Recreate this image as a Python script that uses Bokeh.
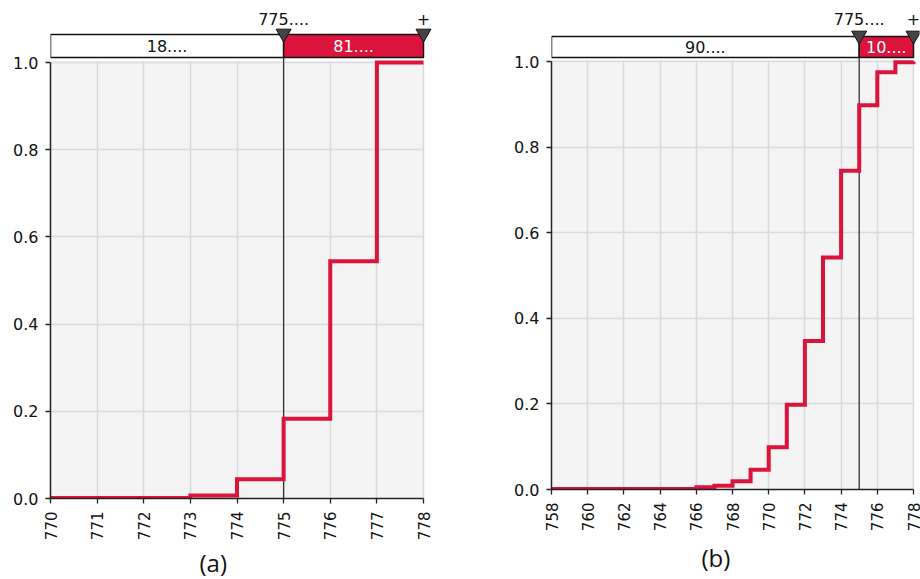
from bokeh.plotting import figure
from bokeh.layouts import row
from bokeh.models import Range1d, FixedTicker, PrintfTickFormatter, BoxAnnotation, Title
from bokeh.embed import file_html
from bokeh.resources import INLINE
from bokeh.core.properties import value
import math

# ---------------- data ----------------
a_x = [770, 771, 772, 773, 774, 775, 776, 777, 778]
a_cdf = [0.001, 0.001, 0.001, 0.007, 0.044, 0.183, 0.544, 1.0, 1.0]
a_ticks = [770, 771, 772, 773, 774, 775, 776, 777, 778]

b_x = [758, 759, 760, 761, 762, 763, 764, 765, 766, 767, 768, 769, 770,
       771, 772, 773, 774, 775, 776, 777, 778]
b_cdf = [0.001, 0.001, 0.001, 0.001, 0.001, 0.001, 0.001, 0.001, 0.005,
         0.009, 0.019, 0.046, 0.099, 0.198, 0.347, 0.542, 0.745, 0.898,
         0.975, 0.998, 1.0]
b_ticks = [758, 760, 762, 764, 766, 768, 770, 772, 774, 776, 778]

threshold = 775
marker_labels = ["775....", "+"]
a_bar_labels = ["18....", "81...."]
b_bar_labels = ["90....", "10...."]
y_ticks = [0.0, 0.2, 0.4, 0.6, 0.8, 1.0]

RED = "#DC143C"
FONT = "DejaVu Sans"
H = 578


def panel(xs, ys, ticks, bar_labels, caption, width, bl, frame_right_pad,
          px_per_unit, zero_px, one_px, bar_top_px, bar_bot_px,
          cap_offset, cap_standoff):
    x0, x1 = xs[0], xs[-1]
    x_end = x1 + frame_right_pad / px_per_unit
    frame_w = int(round((x_end - x0) * px_per_unit))
    br = width - bl - frame_w
    unit = zero_px - one_px

    def ypx(p):  # pixel row -> data value (frame top at canvas top)
        return (zero_px - p) / unit

    p = figure(width=width, height=H,
               x_range=Range1d(x0, x_end), y_range=Range1d(0, ypx(0)),
               min_border_left=bl, min_border_right=br,
               min_border_top=0, min_border_bottom=H - zero_px,
               background_fill_color="white",
               output_backend="svg", toolbar_location=None)
    p.outline_line_color = None
    try:
        p.frame_align = False
    except Exception:
        pass

    bg_top = ypx(one_px - 1.5)
    p.add_layout(BoxAnnotation(left=x0, right=x1, bottom=0, top=bg_top,
                               fill_color="#f4f4f4", fill_alpha=1.0,
                               line_color=None, level="image"))

    # grid
    p.xgrid.ticker = FixedTicker(ticks=ticks)
    p.ygrid.ticker = FixedTicker(ticks=y_ticks)
    p.grid.grid_line_color = "#dadada"
    p.grid.grid_line_width = 1.5
    try:
        p.xgrid.cross_bounds = (0, bg_top)
        p.ygrid.cross_bounds = (x0, x1)
    except Exception:
        p.grid.visible = False
        p.segment(x0=ticks, y0=[0] * len(ticks), x1=ticks,
                  y1=[bg_top] * len(ticks), line_color="#dadada",
                  line_width=1.5, level="underlay")
        p.segment(x0=[x0] * len(y_ticks), y0=y_ticks, x1=[x1] * len(y_ticks),
                  y1=y_ticks, line_color="#dadada", line_width=1.5,
                  level="underlay")

    bar_top = ypx(bar_top_px)
    bar_bot = ypx(bar_bot_px)

    # threshold line
    p.segment(x0=[threshold], y0=[0], x1=[threshold], y1=[bar_top],
              line_color="#333333", line_width=1.3)

    # CDF step line
    p.step(xs, ys, mode="after", line_color=RED, line_width=4,
           line_join="miter")

    # split bar on top
    p.quad(left=[x0, threshold], right=[threshold, x1],
           bottom=[bar_bot, bar_bot], top=[bar_top, bar_top],
           fill_color=["white", RED], line_color="#111111", line_width=1.5)
    p.text(x=[(x0 + threshold) / 2, (threshold + x1) / 2],
           y=[(bar_bot + bar_top) / 2] * 2, text=bar_labels,
           text_color=["#111111", "white"], text_align="center",
           text_baseline="middle", text_font=value(FONT),
           text_font_size="16px")
    tri_y = ypx(bar_top_px - 1)
    p.scatter(x=[threshold, x1], y=[tri_y, tri_y],
              marker="inverted_triangle", size=15, fill_color="#444444",
              line_color="#111111", line_width=1)
    lab_y = ypx(18)
    p.text(x=[threshold, x1], y=[lab_y, lab_y], text=marker_labels,
           text_color="#111111", text_align="center",
           text_baseline="middle", text_font=value(FONT),
           text_font_size="16px")

    # axes
    p.xaxis.ticker = FixedTicker(ticks=ticks)
    p.yaxis.ticker = FixedTicker(ticks=y_ticks)
    p.yaxis.formatter = PrintfTickFormatter(format="%.1f")
    p.yaxis.bounds = (0, 1)
    p.xaxis.bounds = (x0, x1)
    p.xaxis.major_label_orientation = math.pi / 2
    for ax in (p.xaxis, p.yaxis):
        ax.axis_line_color = "#222222"
        ax.axis_line_width = 1.5
        ax.major_tick_line_color = "#222222"
        ax.major_tick_line_width = 1.3
        ax.major_tick_out = 5
        ax.major_tick_in = 0
        ax.minor_tick_line_color = None
        ax.major_label_text_font = FONT
        ax.major_label_text_color = "#111111"
    p.yaxis.major_label_text_font_size = "16px"
    p.xaxis.major_label_text_font_size = "15px"
    p.yaxis.major_label_standoff = 7
    p.xaxis.major_label_standoff = 8

    p.add_layout(Title(text=caption, align="left", offset=cap_offset,
                       standoff=cap_standoff, text_font="Open Sans",
                       text_font_size="24px", text_font_style="normal",
                       text_color="#111111"), "below")
    return p


# panel (a): canvas x 0..505, frame left at 50, 770 -> 50, 778 -> 423
pa = panel(a_x, a_cdf, a_ticks, a_bar_labels, "(a)", width=505, bl=50,
           frame_right_pad=11, px_per_unit=46.625, zero_px=498, one_px=62,
           bar_top_px=34, bar_bot_px=57, cap_offset=149, cap_standoff=0)

# panel (b): canvas x 509..920, frame left at 551, 758 -> 551, 778 -> 913
pb = panel(b_x, b_cdf, b_ticks, b_bar_labels, "(b)", width=411, bl=42,
           frame_right_pad=6, px_per_unit=18.1, zero_px=489, one_px=61,
           bar_top_px=36, bar_bot_px=57, cap_offset=150, cap_standoff=9)

layout = row(pa, pb, spacing=4)

open("out.html", "w").write(file_html(layout, INLINE))
